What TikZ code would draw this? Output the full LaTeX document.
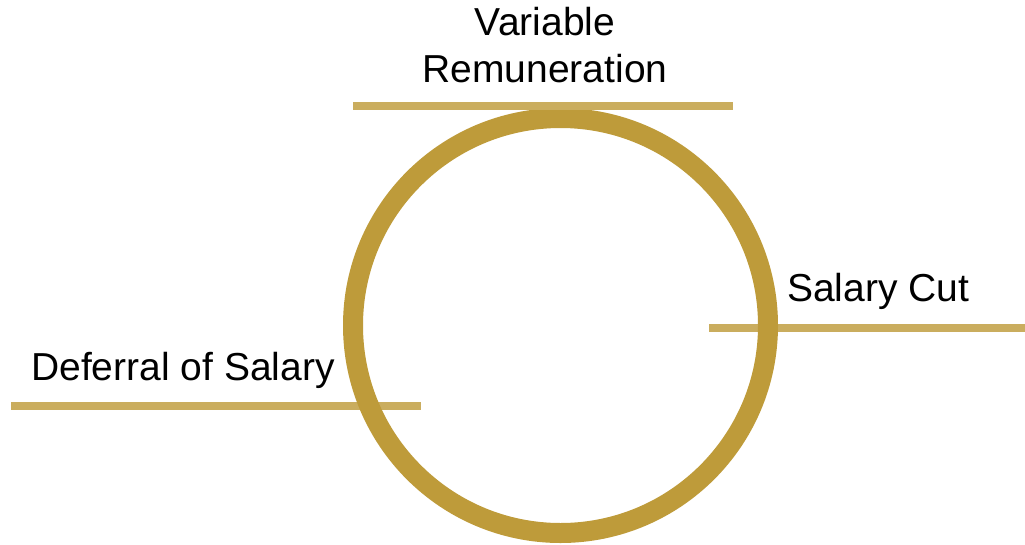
\documentclass[tikz,border=0pt]{standalone}
\usepackage{fontspec}
\setmainfont{Liberation Sans}
\definecolor{ringgold}{RGB}{190,155,58}
\definecolor{linegold}{RGB}{202,173,94}
\begin{document}
\begin{tikzpicture}[x=1pt,y=-1pt,
  label/.style={inner sep=0pt,font=\fontsize{39}{47}\selectfont,text=black},
  rule/.style={draw=linegold,line width=7.5pt},
  ring/.style={draw=ringgold,line width=20pt}]
\useasboundingbox (0,0) rectangle (1025,544);
% side rules (under the ring)
\coordinate (rA) at (709,328);
\coordinate (rB) at (1025,328);
\coordinate (lA) at (11,406);
\coordinate (lB) at (421,406);
\draw[rule] (rA) -- (rB);
\draw[rule] (lA) -- (lB);
% ring
\node[ring,circle,minimum size=415pt,inner sep=0pt] (ring) at (560.5,325.5) {};
% top rule (over the ring)
\coordinate (tA) at (353,106);
\coordinate (tB) at (733,106);
\draw[rule] (tA) -- (tB);
% labels
\node[label,anchor=base] (var) at (545,35) {Variable};
\node[label,anchor=base] (rem) at (545,82) {Remuneration};
\node[label,anchor=base west] (cut) at (787,301) {Salary Cut};
\node[label,anchor=base west] (def) at (31,380) {Deferral of Salary};
\end{tikzpicture}
\end{document}
